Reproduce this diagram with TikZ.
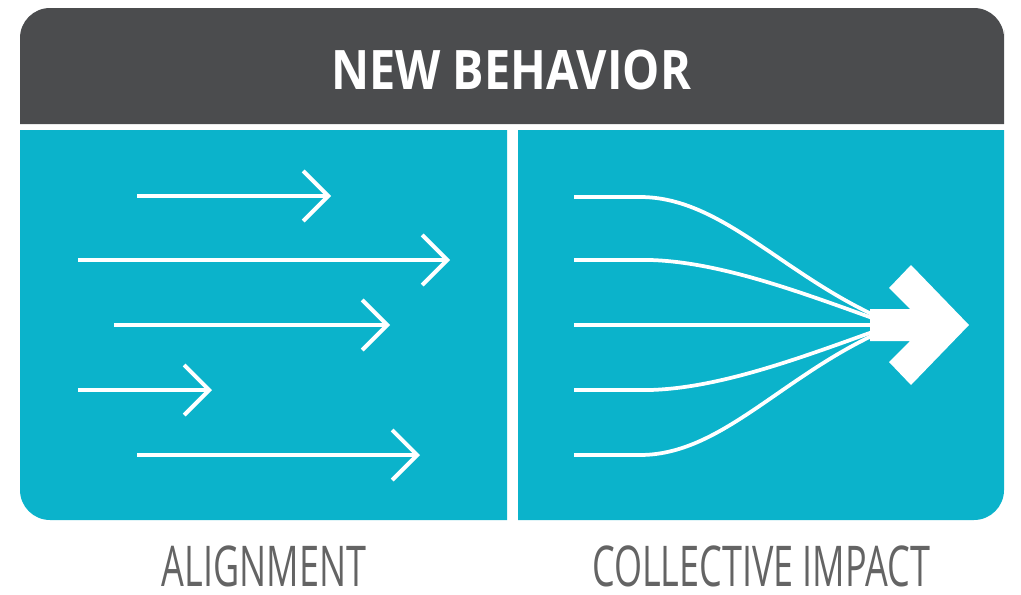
\documentclass[tikz,border=0pt]{standalone}
\usepackage{fontspec}
\usetikzlibrary{arrows.meta}
\newfontfamily\headfont[FakeStretch=0.86]{Open Sans}
\newfontfamily\capfont[FakeStretch=0.64]{Open Sans}
\definecolor{panelteal}{HTML}{0BB3CB}
\definecolor{headgrey}{HTML}{4B4C4E}
\definecolor{capgrey}{HTML}{646464}

\begin{document}
\begin{tikzpicture}[x=0.02cm,y=-0.02cm,
		flow/.style={draw=white,line width=0.08cm,-{Straight Barb[length=0.5cm,width=1.0cm]}},
		merge/.style={draw=white,line width=0.075cm},
		caption/.style={text=capgrey,inner sep=0pt,font=\capfont\fontsize{32}{32}\selectfont}]
				\useasboundingbox (0,0) rectangle (1021,595);
				\fill[headgrey] (20,124) -- (20,60) [rounded corners=0.6cm] -- (20,8) -- (1004,8) -- (1004,60) [sharp corners] -- (1004,124) -- cycle;
				\fill[panelteal] (20,300) [rounded corners=0.6cm] -- (20,520) -- (300,520) [sharp corners] -- (507,520) -- (507,130) -- (20,130) -- cycle;
				\fill[panelteal] (1004,300) [rounded corners=0.6cm] -- (1004,520) -- (700,520) [sharp corners] -- (518,520) -- (518,130) -- (1004,130) -- cycle;
				\node[text=white,font=\headfont\bfseries\fontsize{31}{31}\selectfont] (title) at (511,70) {NEW BEHAVIOR};
				\coordinate (a1) at (137,196); \coordinate (b1) at (331,196);
				\coordinate (a2) at (78,260);  \coordinate (b2) at (450,260);
				\coordinate (a3) at (114,325); \coordinate (b3) at (390,325);
				\coordinate (a4) at (78,390);  \coordinate (b4) at (212,390);
				\coordinate (a5) at (137,455); \coordinate (b5) at (420,455);
				\draw[flow] (a1) -- (b1);
				\draw[flow] (a2) -- (b2);
				\draw[flow] (a3) -- (b3);
				\draw[flow] (a4) -- (b4);
				\draw[flow] (a5) -- (b5);
				\coordinate (s1) at (574,197); \coordinate (h1) at (878,317);
				\coordinate (s2) at (574,260); \coordinate (h2) at (878,320);
				\coordinate (s3) at (574,325); \coordinate (h3) at (878,325);
				\coordinate (s4) at (574,390); \coordinate (h4) at (878,330);
				\coordinate (s5) at (574,455); \coordinate (h5) at (878,333);
				\draw[merge] (s1) -- (640,197) .. controls (720,197) and (780,272) .. (h1);
				\draw[merge] (s2) -- (650,260) .. controls (720,262) and (800,292) .. (h2);
				\draw[merge] (s3) -- (h3);
				\draw[merge] (s4) -- (650,390) .. controls (720,388) and (800,358) .. (h4);
				\draw[merge] (s5) -- (640,455) .. controls (720,455) and (780,378) .. (h5);
				\fill[white] (870,309) -- (910,309) -- (889,288) -- (911,265) -- (969,325) -- (911,385) -- (889,362) -- (910,341) -- (870,341) -- cycle;
				\node[caption] (align) at (264,566) {ALIGNMENT};
				\node[caption] (impact) at (761,566) {COLLECTIVE IMPACT};
			\end{tikzpicture}
\end{document}
